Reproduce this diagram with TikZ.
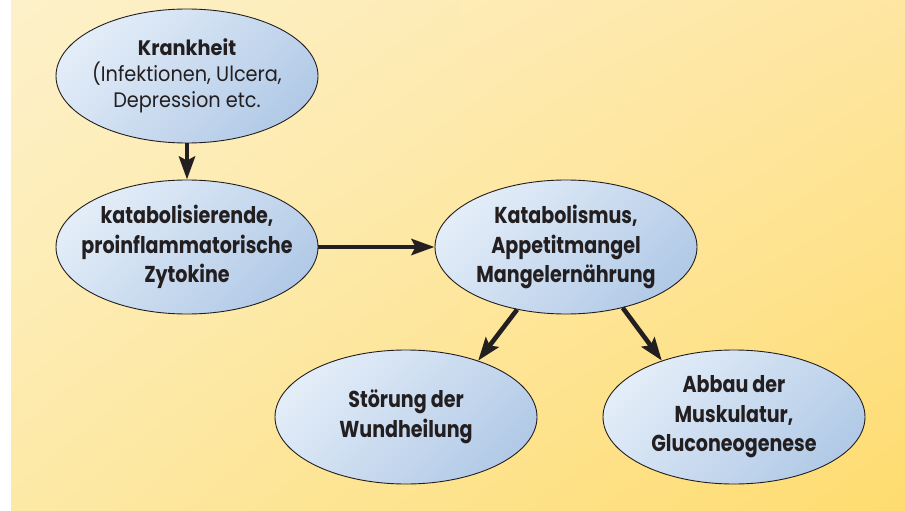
\documentclass[tikz,border=0pt]{standalone}
\usepackage{fontspec}
\setmainfont{Poppins}
\newfontfamily\bubfont{Poppins}[FakeStretch=0.83]
\newfontfamily\topfont{Poppins}[FakeStretch=0.92]
\usetikzlibrary{shapes.geometric,arrows.meta,shadings}
\definecolor{txt}{HTML}{231F20}
\definecolor{bgA}{HTML}{FDF1CA}
\definecolor{bgB}{HTML}{FEE6A2}
\definecolor{bgC}{HTML}{FDE9A6}
\definecolor{bgD}{HTML}{FEDC70}
\definecolor{ellA}{HTML}{E3EDF8}
\definecolor{ellB}{HTML}{B2CAE7}
\tikzset{
  bubble/.style={ellipse, draw=txt, line width=0.9pt, minimum width=262pt, minimum height=134pt,
    inner sep=0pt, top color=ellA, bottom color=ellB, shading angle=45},
  btext/.style={align=center, text=txt, inner sep=0pt, font=\bubfont\bfseries\fontsize{23}{29.5}\selectfont},
  ttext/.style={align=center, text=txt, inner sep=0pt, font=\topfont\fontsize{21}{26}\selectfont},
  flow/.style={draw=txt, line width=4.6pt, -{Stealth[length=23pt,width=16pt,inset=4pt]}}
}
\begin{document}
\begin{tikzpicture}[x=1pt,y=-1pt]
\useasboundingbox (0,0) rectangle (905,511);
\fill[white] (0,0) rectangle (905,511);
\shade[upper left=bgA, upper right=bgB, lower left=bgC, lower right=bgD] (11,0) rectangle (905,511);
\node[bubble] (krank) at (187,76) {};
\node[bubble] (zyto) at (187,247) {};
\node[bubble] (kat) at (566,247) {};
\node[bubble] (stoer) at (406,417) {};
\node[bubble] (abbau) at (734,417) {};
\node[ttext] (krankT) at (krank.center) {{\bfseries Krankheit}\\(Infektionen, Ulcera,\\Depression etc.};
\node[btext] (zytoT) at (zyto.center) {katabolisierende,\\proinflammatorische\\Zytokine};
\node[btext] (katT) at (kat.center) {Katabolismus,\\Appetitmangel\\Mangelernährung};
\node[btext] (stoerT) at (stoer.center) {Störung der\\Wundheilung};
\node[btext] (abbauT) at (abbau.center) {Abbau der\\Muskulatur,\\Gluconeogenese};
\draw[flow] (krank.south) -- (zyto.north);
\draw[flow] (zyto.east) -- (kat.west);
\draw[flow] (kat.232) -- (stoer.38);
\draw[flow] (kat.313) -- (abbau.142);
\end{tikzpicture}
\end{document}
